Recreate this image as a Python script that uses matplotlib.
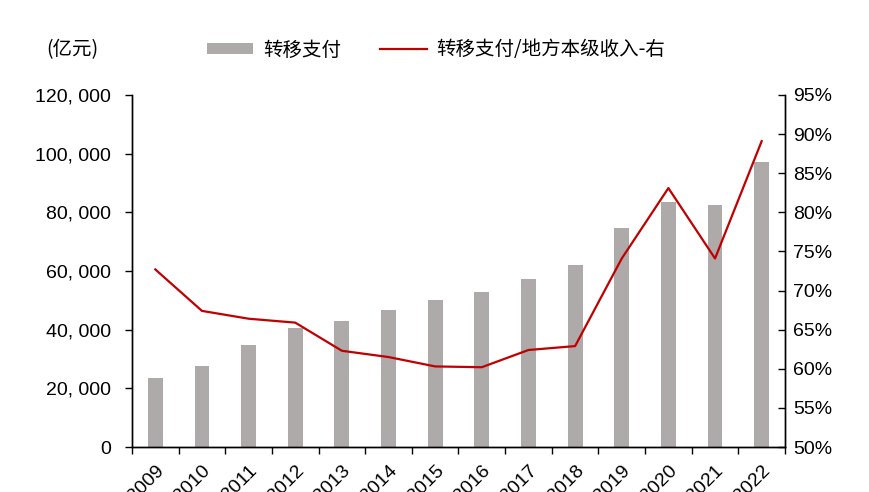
import numpy as np
import matplotlib
matplotlib.use("Agg")
import matplotlib.pyplot as plt
from matplotlib.ticker import FuncFormatter, MultipleLocator
from matplotlib.patches import Patch
from matplotlib.lines import Line2D

plt.rcParams["font.family"] = ["Liberation Sans", "Noto Sans CJK SC", "DejaVu Sans"]

years = ["2009", "2010", "2011", "2012", "2013", "2014", "2015",
         "2016", "2017", "2018", "2019", "2020", "2021", "2022"]
# 转移支付 (亿元)
transfer = [23620, 27510, 34770, 40470, 43060, 46600, 50110,
            52740, 57170, 61940, 74560, 83420, 82500, 97160]
# 转移支付/地方本级收入 (%)
ratio = [72.7, 67.4, 66.4, 65.9, 62.3, 61.5, 60.3,
         60.2, 62.4, 62.9, 74.1, 83.1, 74.1, 89.1]

bar_color = "#AEAAAA"
line_color = "#C00000"
cjk = ["Noto Sans CJK SC", "DejaVu Sans"]

fig = plt.figure(figsize=(8.7, 4.92), dpi=100)
ax = fig.add_axes([132 / 870, 1 - 447 / 492, (785 - 132) / 870, (447 - 95) / 492])
ax2 = ax.twinx()

x = np.arange(len(years))
ax.bar(x, transfer, width=0.32, color=bar_color, zorder=2)
ax2.plot(x, ratio, color=line_color, linewidth=1.6, zorder=3)

ax.set_xlim(-0.5, len(years) - 0.5)
ax.set_ylim(0, 120000)
ax.yaxis.set_major_locator(MultipleLocator(20000))
ax.yaxis.set_major_formatter(FuncFormatter(lambda v, p: f"{v:,.0f}".replace(",", ", ")))
ax2.set_ylim(50, 95)
ax2.yaxis.set_major_locator(MultipleLocator(5))
ax2.yaxis.set_major_formatter(FuncFormatter(lambda v, p: f"{v:.0f}%"))

# x ticks on category boundaries, labels at centres
ax.set_xticks(np.arange(-0.5, len(years), 1.0))
ax.set_xticklabels([])
ax.set_xticks(x, minor=True)
ax.set_xticklabels(years, minor=True, rotation=45, ha="right", rotation_mode="anchor")
ax.tick_params(axis="x", which="minor", length=0, labelsize=14, pad=11)
ax.tick_params(axis="x", which="major", direction="out", length=5, width=1)
ax.tick_params(axis="y", direction="out", length=5, width=1, labelsize=14, pad=10)
ax2.tick_params(axis="y", direction="in", length=5, width=1, labelsize=14, pad=6)

for a in (ax, ax2):
    a.spines["top"].set_visible(False)
    for s in ("left", "right", "bottom"):
        a.spines[s].set_linewidth(1)

fig.text(46 / 870, 1 - 50 / 492, "(亿元)", fontsize=14, family=cjk, va="center")

handles = [Patch(facecolor=bar_color, edgecolor="none"),
           Line2D([0], [0], color=line_color, linewidth=1.6)]
fig.legend(handles, ["转移支付", "转移支付/地方本级收入-右"], loc="center",
           bbox_to_anchor=(436 / 870, 1 - 50 / 492), ncol=2, frameon=False,
           prop={"family": cjk, "size": 14}, handlelength=2.4, handleheight=0.55,
           columnspacing=2.0, handletextpad=0.5)

fig.savefig("out.png", dpi=100)
